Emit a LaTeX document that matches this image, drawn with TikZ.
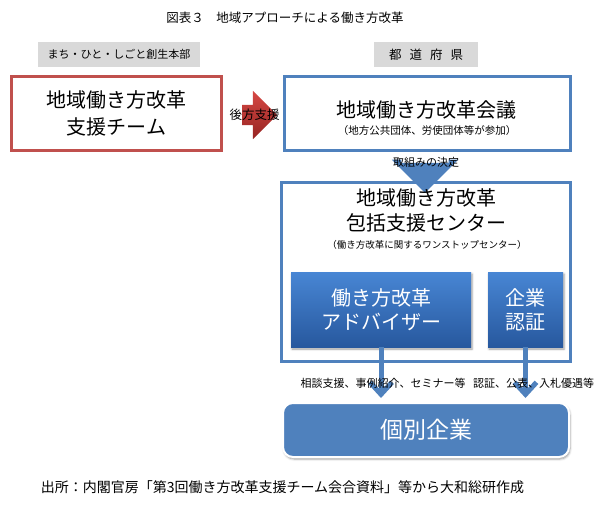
\documentclass[tikz,border=0pt]{standalone}
\usepackage{fontspec}
\setmainfont{Noto Sans CJK JP}
\usepackage{xcolor}
\definecolor{myr}   {RGB}{192, 80, 77}
\definecolor{myb}   {RGB}{79, 129, 189}
\definecolor{myk}   {RGB}{217, 217, 217}
\definecolor{mytop} {RGB}{72, 134, 212}
\definecolor{mybot} {RGB}{39, 88, 158}
\definecolor{myrtop}{RGB}{214, 72, 68}
\definecolor{myrbot}{RGB}{150, 36, 34}
\usetikzlibrary{arrows.meta, positioning}
\usetikzlibrary{shapes.arrows, shadows.blur}
\newcommand{\jfs}[2]{\fontsize{#1}{#2}\selectfont}

\begin{document}
\begin{tikzpicture}[x=1pt, y=-1pt,
			box/.style={draw, line width=3pt, inner sep=0pt, align=center},
			tag/.style={fill=myk, minimum height=25pt, inner sep=0pt, font=\jfs{11}{13}},
			inbox/.style={top color=mytop, bottom color=mybot, inner sep=0pt,
				minimum height=75pt, text=white, align=center, font=\jfs{20}{24},
				blur shadow={shadow xshift=1pt, shadow yshift=-2pt, shadow blur steps=4}},
			flow/.style={draw=myb, line width=5pt, shorten >=4pt,
				-{Straight Barb[length=12pt, width=22pt]}},
			lbl/.style={font=\jfs{11}{13}, inner sep=0pt},
			]
			\useasboundingbox (0,0) rectangle (605,508);
			\node[font=\jfs{12.5}{14}] (title) at (285,18) {図表３　地域アプローチによる働き方改革};
			% headers
			\node[tag, minimum width=162pt] (hq) at (119,54.5) {まち・ひと・しごと創生本部};
			\node[tag, minimum width=104pt, font=\jfs{12.5}{14}] (pref) at (426,54.5)
				{都\hspace{8pt}道\hspace{8pt}府\hspace{8pt}県};
			% top row
			\node[box, draw=myr, minimum width=210pt, minimum height=74pt, font=\jfs{20}{27}]
				(team) at (116.5,113.5) {地域働き方改革\\支援チーム};
			\node[box, draw=myb, minimum width=286pt, minimum height=74pt] (mtg) at (427.5,113.5) {};
			\node[font=\jfs{20}{24}, inner sep=0pt] (mtgt) at (426,110) {地域働き方改革会議};
			\node[font=\jfs{10.5}{12}, inner sep=0pt] (mtgs) at (427,131) {（地方公共団体、労使団体等が参加）};
			\node[single arrow, single arrow head extend=14pt, minimum height=35pt, inner sep=0pt,
				top color=myrtop, bottom color=myrbot] (sup) at (254.5,115) {\rule{0pt}{20pt}};
			\node[lbl, font=\jfs{12.5}{14}] (supt) at (sup) {後方支援};
			% center
			\node[single arrow, single arrow head extend=9.5pt, minimum height=30pt, inner sep=0pt,
				rotate=-90, fill=myb] (dec) at (425,166) {\rule{0pt}{47pt}};
			\node[lbl] (dect) at (426,162) {取組みの決定};
			\node[box, draw=myb, minimum width=289pt, minimum height=179pt] (ctr) at (426,272) {};
			\node[font=\jfs{20}{25}, align=center, inner sep=0pt] (ctrt) at (426,210.5)
				{地域働き方改革\\包括支援センター};
			\node[font=\jfs{9.5}{11}, inner sep=0pt] (ctrs) at (427,245) {（働き方改革に関するワンストップセンター）};
			\node[inbox, minimum width=180pt] (adv) at (381,309.5) {働き方改革\\アドバイザー};
			\node[inbox, minimum width=75pt] (cert) at (525.5,309.5) {企業\\認証};
			% bottom
			\node[fill=myb, draw=white, line width=2pt, rounded corners=10pt, minimum width=286pt,
				minimum height=54pt, text=white, font=\jfs{23}{26},
				blur shadow={shadow xshift=1pt, shadow yshift=-2pt, shadow blur steps=4}]
				(firm) at (426,430) {個別企業};
			\foreach \a in {adv, cert}
			\draw[flow] (\a.south) -- (\a.south |- firm.north);
			\node[lbl] (advl) at (383,383) {相談支援、事例紹介、セミナー等};
			\node[lbl] (certl) at (533.5,383) {認証、公表、入札優遇等};
			\node[font=\jfs{14}{16}] (src) at (282.5,487)
				{出所：内閣官房「第3回働き方改革支援チーム会合資料」等から大和総研作成};
	\end{tikzpicture}
\end{document}
